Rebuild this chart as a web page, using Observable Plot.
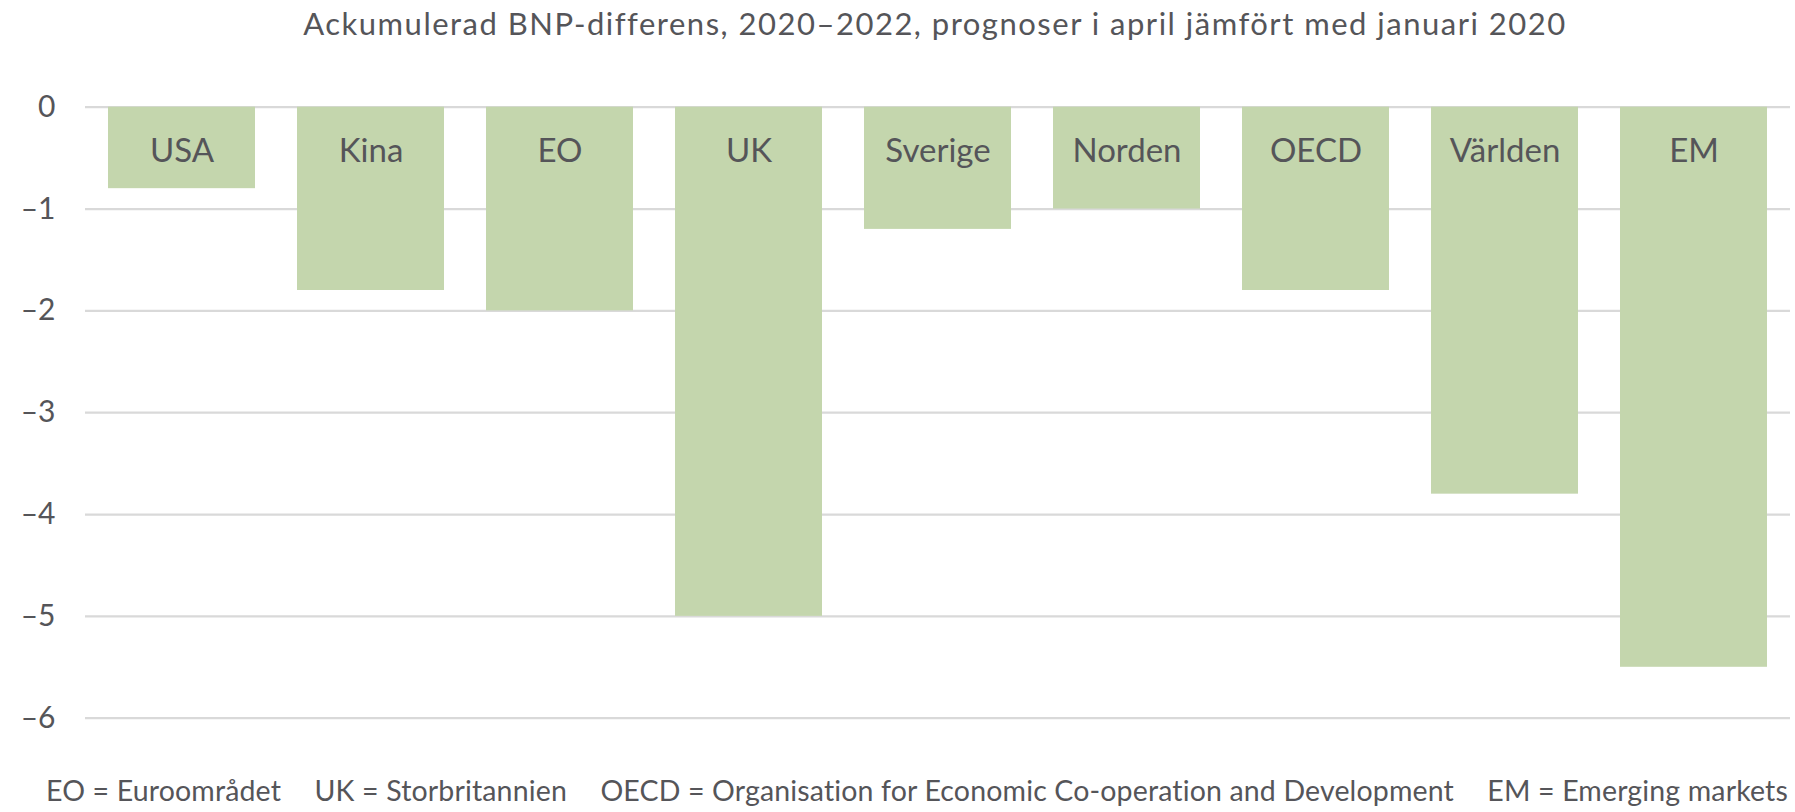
<!DOCTYPE html>
<html>
<head>
<meta charset="utf-8">
<script src="https://cdn.jsdelivr.net/npm/d3@7"></script>
<script src="https://cdn.jsdelivr.net/npm/@observablehq/plot@0.6"></script>
<style>
  html, body { margin: 0; padding: 0; background: #fff; }
  body { width: 1795px; height: 812px; overflow: hidden; font-family: Lato, "Open Sans", sans-serif; color: #555559; }
  #title { height: 60px; box-sizing: border-box; padding: 3px 5px 0 80px; text-align: center; font-size: 31px; letter-spacing: 1.5px; line-height: 40px; white-space: nowrap; }
  #caption { height: 52px; box-sizing: border-box; padding: 13px 7px 0 46px; display: flex; justify-content: space-between; font-size: 28.5px; letter-spacing: 0.15px; line-height: 34px; white-space: nowrap; }
  svg { display: block; }
</style>
</head>
<body>
<div id="title"></div>
<div id="chart"></div>
<div id="caption"></div>
<script>
const titleText = "Ackumulerad BNP-differens, 2020–2022, prognoser i april jämfört med januari 2020";
const categories = ["USA", "Kina", "EO", "UK", "Sverige", "Norden", "OECD", "Världen", "EM"];
const values = [-0.8, -1.8, -2.0, -5.0, -1.2, -1.0, -1.8, -3.8, -5.5];
const yTicks = [0, -1, -2, -3, -4, -5, -6];
const captionItems = [
  "EO = Euroområdet",
  "UK = Storbritannien",
  "OECD = Organisation for Economic Co-operation and Development",
  "EM = Emerging markets"
];

const data = categories.map((c, i) => ({category: c, value: values[i]}));
const textColor = "#555559";

document.getElementById("title").textContent = titleText;
const cap = document.getElementById("caption");
captionItems.forEach(t => { const s = document.createElement("span"); s.textContent = t; cap.appendChild(s); });

const H = 700;
const chart = Plot.plot({
  width: 1795,
  height: H,
  marginLeft: 85,
  marginRight: 5,
  marginTop: 46.7,
  marginBottom: H - 657.7,
  style: { fontFamily: "Lato, 'Open Sans', sans-serif", color: textColor, background: "#fff" },
  x: { domain: categories, paddingInner: 0.22, paddingOuter: 0.11, axis: null },
  y: { domain: [-6, 0], ticks: yTicks, label: null },
  marks: [
    Plot.gridY(yTicks, { stroke: "#d9d9d9", strokeOpacity: 1, strokeWidth: 2.2 }),
    Plot.barY(data, { x: "category", y: "value", fill: "#c4d6ad" }),
    Plot.text(data, { x: "category", y: () => 0, text: "category", dy: 44, fontSize: 33, fill: textColor, letterSpacing: 2.8 }),
    Plot.axisY(yTicks, {
      tickSize: 0, tickPadding: 30, fontSize: 30, fill: textColor, letterSpacing: 4,
      tickFormat: d => d === 0 ? "0" : "\u2013" + Math.abs(d), label: null
    })
  ]
});
document.getElementById("chart").appendChild(chart);
</script>
</body>
</html>
